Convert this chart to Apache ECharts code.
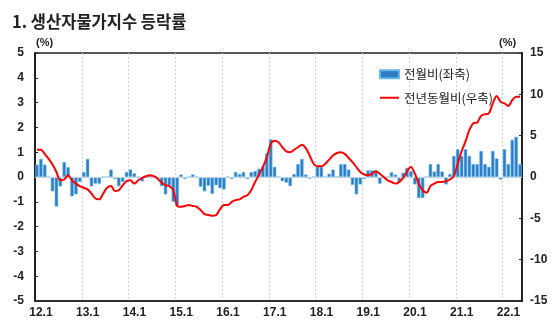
<!DOCTYPE html>
<html><head><meta charset="utf-8">
<script src="https://cdn.jsdelivr.net/npm/echarts@6/dist/echarts.min.js"></script>
<style>html,body{margin:0;padding:0;background:#fff}#c{width:559px;height:322px}</style>
</head><body><div id="c"></div>
<script>
var years = ['12','13','14','15','16','17','18','19','20','21','22'];
var lastMonth = 5;
var categories = [];
years.forEach(function(y, yi){
  var n = (yi === years.length - 1) ? lastMonth : 12;
  for (var m = 1; m <= n; m++) categories.push(y + '.' + m);
});
var seriesNames = ['전월비(좌축)', '전년동월비(우축)'];
var momValues = [
  0.5, 0.73, 0.5, 0.0, -0.58, -1.19, -0.38, 0.6, 0.4, -0.78, -0.7, -0.2,
  0.2, 0.73, -0.38, -0.27, -0.27, 0.0, 0.0, 0.3, -0.08, -0.37, -0.2, 0.2,
  0.3, 0.15, 0.0, -0.18, 0.0, 0.05, 0.0, -0.05, -0.37, -0.7, -0.33, -1.0,
  -1.15, 0.1, -0.08, 0.0, 0.1, 0.0, -0.4, -0.58, -0.35, -0.68, -0.33, -0.45,
  -0.5, 0.0, -0.08, 0.2, 0.12, 0.2, -0.08, 0.2, 0.24, 0.33, 0.42, 0.95,
  1.52, 0.41, 0.0, -0.17, -0.23, -0.37, 0.12, 0.52, 0.73, 0.1, -0.07, 0.0,
  0.41, 0.41, 0.0, 0.13, 0.3, 0.0, 0.52, 0.52, 0.3, -0.32, -0.7, -0.3,
  -0.08, 0.27, 0.27, 0.27, -0.27, 0.0, 0.0, 0.19, 0.1, -0.22, 0.17, 0.37,
  0.24, -0.3, -0.85, -0.85, 0.0, 0.52, 0.22, 0.52, 0.22, -0.3, 0.12, 0.85,
  1.12, 0.85, 1.12, 0.85, 0.52, 0.52, 1.05, 0.52, 0.41, 1.05, 0.75, -0.1,
  1.12, 0.52, 1.5, 1.62, 0.52
];
var yoyValues = [
  3.3, 3.3, 2.8, 2.2, 1.5, 0.6, -0.4, -0.3, 0.2, -0.4, -0.8, -1.1,
  -1.3, -1.5, -2.0, -2.6, -2.7, -2.0, -1.3, -1.1, -1.7, -1.6, -1.0, -0.5,
  -0.4, -0.8, -0.4, -0.1, 0.1, 0.2, 0.1, -0.2, -0.7, -1.0, -1.1, -1.6,
  -3.5, -3.6, -3.5, -3.4, -3.5, -3.6, -4.0, -4.5, -4.6, -4.7, -4.6, -3.9,
  -3.4, -3.4, -3.0, -2.8, -2.7, -2.4, -2.2, -1.6, -0.6, 0.3, 1.2, 2.4,
  4.0, 4.4, 4.2, 3.6, 3.1, 3.0, 3.3, 3.6, 3.9, 3.5, 2.6, 1.6,
  1.3, 1.3, 1.6, 2.1, 2.6, 2.9, 3.0, 2.8, 2.3, 1.8, 1.2, 0.6,
  0.3, 0.2, 0.4, 0.7, 0.4, 0.0, -0.4, -0.6, -0.8, -0.6, -0.1, 0.7,
  1.2, 0.4, -0.8, -1.6, -1.9, -1.1, -0.8, -0.6, -0.6, -0.5, -0.3, 0.1,
  1.6, 3.1, 4.3, 5.7, 6.5, 6.6, 7.4, 7.6, 7.7, 8.9, 9.8, 9.1,
  8.9, 8.6, 9.3, 9.7, 9.7
];
var titleText = '1. 생산자물가지수 등락률';
var unitText = '(%)';

var chart = echarts.init(document.getElementById('c'), null, {renderer: 'canvas'});
var numFont = '"Liberation Sans", Arial, sans-serif';
var krFont = '"Noto Sans CJK KR", "Noto Sans", sans-serif';
chart.setOption({
  animation: false,
  backgroundColor: '#ffffff',
  title: {
    text: titleText, left: 7, top: 8,
    textStyle: {fontFamily: krFont, fontSize: 16.5, fontWeight: 'bold', color: '#222'}
  },
  graphic: [
    {type: 'text', left: 36, top: 37, style: {text: unitText, font: 'bold 11px ' + numFont, fill: '#222'}},
    {type: 'text', left: 499, top: 37, style: {text: unitText, font: 'bold 11px ' + numFont, fill: '#222'}}
  ],
  legend: {
    orient: 'vertical', left: 374, top: 63, itemGap: 11,
    itemWidth: 19, itemHeight: 8,
    textStyle: {fontFamily: krFont, fontSize: 12.5, color: '#222'},
    data: [
      {name: seriesNames[0], icon: 'rect'},
      {name: seriesNames[1], itemStyle: {color: 'transparent', borderWidth: 0, opacity: 0}}
    ]
  },
  grid: {left: 35, right: 37, top: 53, bottom: 21, show: true, borderColor: '#222', borderWidth: 1.5, backgroundColor: 'transparent'},
  xAxis: {
    type: 'category', data: categories, boundaryGap: true,
    axisLine: {show: true, onZero: false, lineStyle: {color: '#222', width: 1.5}},
    axisTick: {show: false},
    axisLabel: {
      interval: function(i){ return i % 12 === 0; },
      margin: 6, padding: [0, 0, 0, 8], fontFamily: numFont, fontSize: 12, fontWeight: 'bold', color: '#222'
    },
    splitLine: {show: true, interval: function(i){ return i % 12 === 0 && i > 0; },
      lineStyle: {color: '#d2d2d2', type: [2, 2], width: 1}}
  },
  yAxis: [
    {type: 'value', min: -5, max: 5, interval: 1, position: 'left',
     axisLine: {show: true, lineStyle: {color: '#222', width: 2}},
     axisTick: {show: true, inside: true, length: 3, lineStyle: {color: '#222'}},
     axisLabel: {margin: 11, fontFamily: numFont, fontSize: 12, fontWeight: 'bold', color: '#222'},
     splitLine: {show: false}},
    {type: 'value', min: -15, max: 15, interval: 5, position: 'right',
     axisLine: {show: true, lineStyle: {color: '#222', width: 2}},
     axisTick: {show: true, inside: true, length: 3, lineStyle: {color: '#222'}},
     axisLabel: {margin: 8, fontFamily: numFont, fontSize: 12, fontWeight: 'bold', color: '#222'},
     splitLine: {show: false}}
  ],
  series: [
    {name: seriesNames[0], type: 'bar', yAxisIndex: 0, data: momValues,
     barCategoryGap: '12%',
     itemStyle: {color: '#2F7BC4', borderColor: '#63B8E8', borderWidth: 0.6},
     markLine: {silent: true, symbol: 'none', label: {show: false},
       lineStyle: {color: '#c8d4e0', type: 'solid', width: 1},
       data: [{yAxis: 0}]}},
    {name: seriesNames[1], type: 'line', yAxisIndex: 1, data: yoyValues,
     symbol: 'none', smooth: 0.3,
     lineStyle: {color: '#FF0000', width: 2}, itemStyle: {color: '#FF0000'}, z: 5}
  ]
});
</script></body></html>
